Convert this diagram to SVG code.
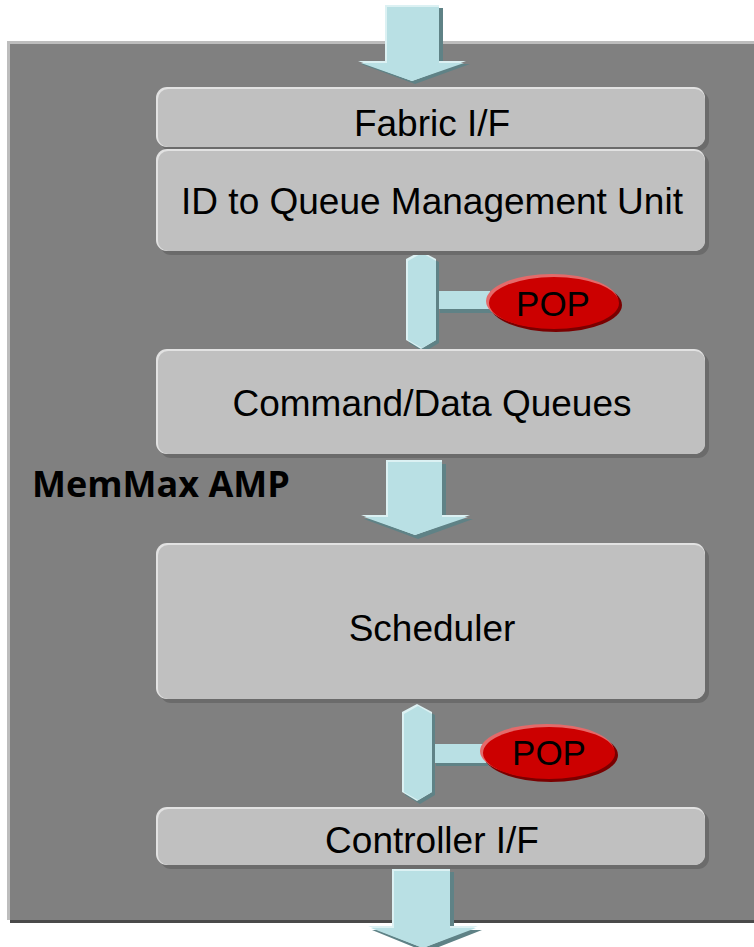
<svg xmlns="http://www.w3.org/2000/svg" width="754" height="947" viewBox="0 0 754 947">
  <defs>
    <style>
      .box { fill: #c0c0c0; }
      .boxhi { fill: #e2e2e2; }
      .boxsh { fill: #6b6b6b; }
      .lbl { font-family: "Liberation Sans", Arial, sans-serif; font-size: 37px; fill: #000; text-anchor: middle; }
      .popl { font-family: "Liberation Sans", Arial, sans-serif; font-size: 35px; fill: #000; text-anchor: middle; }
      .arrow { fill: #b9e0e4; }
      .arrowhi { fill: #dcf1f3; }
      .arrowsh { fill: #5f8286; }
      .pop { fill: #cc0000; }
      .pophi { fill: #e46a6a; }
      .popsh { fill: #7a0000; }
    </style>
  </defs>

  <rect width="754" height="947" fill="#ffffff"/>

  <!-- outer block -->
  <g id="memmax-amp">
    <rect x="10" y="44" width="760" height="879" fill="#4a4a4a"/>
    <rect x="7" y="41" width="760" height="879" fill="#bdbdbd"/>
    <rect x="10" y="44" width="760" height="876" fill="#808080"/>
    <text x="32" y="497" font-family="'Open Sans', 'DejaVu Sans', sans-serif" font-weight="bold" font-size="36" fill="#000">MemMax AMP</text>
  </g>

  <!-- connectors -->
  <g id="connectors">
    <!-- top input arrow -->
    <g id="arrow-in">
      <path class="arrowsh" d="M389,8 H443 V64 H470 L415,84 L361,64 H389 Z"/>
      <path class="arrowhi" d="M385,5 H439 V61 H466 L412,81 L358,61 H385 Z"/>
      <path class="arrow" d="M387,7 H439 V63 H464 L412,81 L361,63 H387 Z"/>
    </g>
    <!-- queue -> scheduler arrow -->
    <g id="arrow-mid">
      <path class="arrowsh" d="M390,464 H446 V519 H473 L418,539 L364,519 H390 Z"/>
      <path class="arrowhi" d="M386,460 H442 V515 H470 L415,535 L361,515 H386 Z"/>
      <path class="arrow" d="M388,462 H442 V517 H468 L415,535 L364,517 H388 Z"/>
    </g>
    <!-- output arrow -->
    <g id="arrow-out">
      <path class="arrowsh" d="M396,872 H454 V930 H482 L426,952 L372,930 H396 Z"/>
      <path class="arrowhi" d="M392,869 H450 V926 H478 L423,948 L368,926 H392 Z"/>
      <path class="arrow" d="M394,871 H450 V928 H476 L423,948 L371,928 H394 Z"/>
    </g>
    <!-- POP connector 1 -->
    <g id="pop-link-1">
      <path class="arrowsh" d="M440,295 H492 V313 H440 Z"/>
      <path class="arrow" d="M437,291 H490 V309 H437 Z"/>
      <path class="arrowsh" d="M424,254 L439,262 V343 L424,352 L409,343 V262 Z"/>
      <path class="arrowhi" d="M421,251 L436,259 V340 L421,349 L406,340 V259 Z"/>
      <path class="arrow" d="M422,253 L436,261 V340 L422,348 L408,340 V261 Z"/>
    </g>
    <!-- POP connector 2 -->
    <g id="pop-link-2">
      <path class="arrowsh" d="M436,747 H488 V766 H436 Z"/>
      <path class="arrow" d="M432,744 H486 V763 H432 Z"/>
      <path class="arrowsh" d="M420,707 L435,715 V795 L420,804 L405,795 V715 Z"/>
      <path class="arrowhi" d="M417,704 L432,712 V792 L417,801 L402,792 V712 Z"/>
      <path class="arrow" d="M418,706 L432,714 V792 L418,800 L404,792 V714 Z"/>
    </g>
  </g>

  <!-- Fabric I/F -->
  <g id="fabric-if">
    <rect class="boxsh" x="160" y="91" width="549" height="60" rx="11"/>
    <rect class="boxhi" x="156" y="87" width="549" height="60" rx="11"/>
    <rect class="box" x="158" y="89" width="547" height="58" rx="10"/>
    <text class="lbl" x="432" y="136">Fabric I/F</text>
  </g>

  <!-- ID to Queue Management Unit -->
  <g id="id-queue-mgmt">
    <rect class="boxsh" x="160" y="153" width="549" height="102" rx="11"/>
    <rect class="boxhi" x="156" y="149" width="549" height="102" rx="11"/>
    <rect class="box" x="158" y="151" width="547" height="100" rx="10"/>
    <text class="lbl" x="432" y="214">ID to Queue Management Unit</text>
  </g>

  <!-- Command/Data Queues -->
  <g id="cmd-data-queues">
    <rect class="boxsh" x="160" y="353" width="549" height="105" rx="11"/>
    <rect class="boxhi" x="156" y="349" width="549" height="105" rx="11"/>
    <rect class="box" x="158" y="351" width="547" height="103" rx="10"/>
    <text class="lbl" x="432" y="416">Command/Data Queues</text>
  </g>

  <!-- Scheduler -->
  <g id="scheduler">
    <rect class="boxsh" x="160" y="547" width="549" height="156" rx="11"/>
    <rect class="boxhi" x="156" y="543" width="549" height="156" rx="11"/>
    <rect class="box" x="158" y="545" width="547" height="154" rx="10"/>
    <text class="lbl" x="432" y="641">Scheduler</text>
  </g>

  <!-- Controller I/F -->
  <g id="controller-if">
    <rect class="boxsh" x="160" y="811" width="549" height="58" rx="11"/>
    <rect class="boxhi" x="156" y="807" width="549" height="58" rx="11"/>
    <rect class="box" x="158" y="809" width="547" height="56" rx="10"/>
    <text class="lbl" x="432" y="853">Controller I/F</text>
  </g>

  <!-- POP badges -->
  <g id="pop-1">
    <ellipse class="popsh" cx="556" cy="305" rx="66" ry="27"/>
    <ellipse class="pophi" cx="552" cy="301" rx="66" ry="27"/>
    <ellipse class="pop" cx="554" cy="303" rx="65" ry="26"/>
    <text class="popl" x="553" y="316">POP</text>
  </g>
  <g id="pop-2">
    <ellipse class="popsh" cx="551" cy="755" rx="67" ry="27"/>
    <ellipse class="pophi" cx="547" cy="751" rx="67" ry="27"/>
    <ellipse class="pop" cx="549" cy="753" rx="66" ry="26"/>
    <text class="popl" x="549" y="765">POP</text>
  </g>
</svg>
